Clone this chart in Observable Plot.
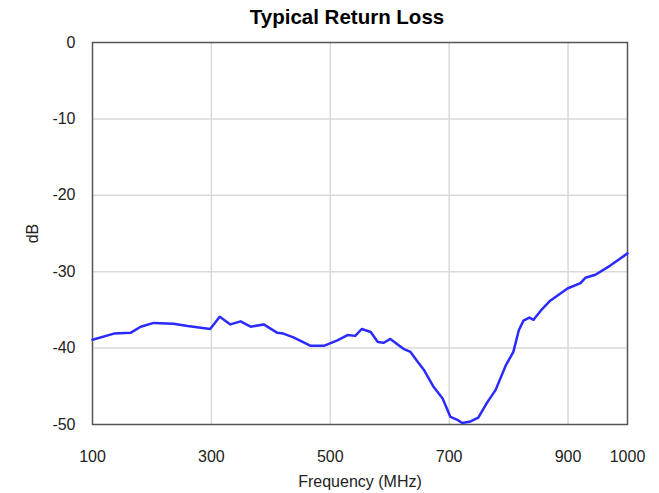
<!DOCTYPE html>
<html>
<head>
<meta charset="utf-8">
<script src="https://cdn.jsdelivr.net/npm/d3@7"></script>
<script src="https://cdn.jsdelivr.net/npm/@observablehq/plot@0.6"></script>
<style>
  body { margin: 0; background: #fff; }
  #wrap { position: relative; width: 659px; height: 493px; }
  #title { position: absolute; left: 0; top: 5px; width: 694px; text-align: center;
    font: bold 20.5px "Liberation Sans", Arial, sans-serif; color: #000; }
</style>
</head>
<body>
<div id="wrap"><div id="title">Typical Return Loss</div></div>
<script>
const freq = [100,136,164,181,203,236,260,298,314,332,349,366,388,411,421,438,467,489,512,529,542,553,568,580,590,601,623,635,647,657,674,689,702,714,722,736,749,764,778,795,808,817,825,835,842,854,870,899,921,929,946,971,1000];
const dB   = [-38.9,-38.1,-38.0,-37.2,-36.7,-36.8,-37.1,-37.5,-35.9,-36.9,-36.5,-37.2,-36.9,-38.0,-38.1,-38.6,-39.7,-39.7,-39.0,-38.3,-38.4,-37.5,-37.9,-39.2,-39.3,-38.8,-40.1,-40.5,-41.8,-42.8,-45.1,-46.6,-49.0,-49.4,-49.8,-49.6,-49.1,-47.1,-45.5,-42.3,-40.5,-37.7,-36.4,-36.0,-36.3,-35.1,-33.8,-32.2,-31.5,-30.8,-30.4,-29.2,-27.6];
const xTicks = [100,300,500,700,900,1000];
const xGrid = [300,500,700,900];
const yTicks = [0,-10,-20,-30,-40,-50];
const yGrid = [-10,-20,-30,-40];

const data = freq.map((f,i) => ({f, v: dB[i]}));

const chart = Plot.plot({
  width: 659, height: 493,
  marginLeft: 92, marginRight: 32, marginTop: 42, marginBottom: 69,
  style: {fontFamily: '"Liberation Sans", Arial, sans-serif', fontSize: "16px", color: "#222", background: "#fff"},
  x: {domain: [100,1000], ticks: xTicks, tickFormat: d => String(d), tickSize: 0, tickPadding: 26,
      label: "Frequency (MHz)", labelAnchor: "center", labelOffset: 62, labelArrow: "none"},
  y: {domain: [-50,0], ticks: yTicks, tickFormat: d => String(d), tickSize: 0, tickPadding: 17,
      label: "dB", labelAnchor: "center", labelOffset: 66, labelArrow: "none"},
  marks: [
    Plot.ruleX(xGrid, {stroke: "#d9d9d9", strokeWidth: 1.5}),
    Plot.ruleY(yGrid, {stroke: "#d9d9d9", strokeWidth: 1.5}),
    Plot.frame({stroke: "#555", strokeWidth: 1.5}),
    Plot.line(data, {x: "f", y: "v", stroke: "#2b2bff", strokeWidth: 2.5, curve: "linear"})
  ]
});
document.getElementById("wrap").prepend(chart);
</script>
</body>
</html>
